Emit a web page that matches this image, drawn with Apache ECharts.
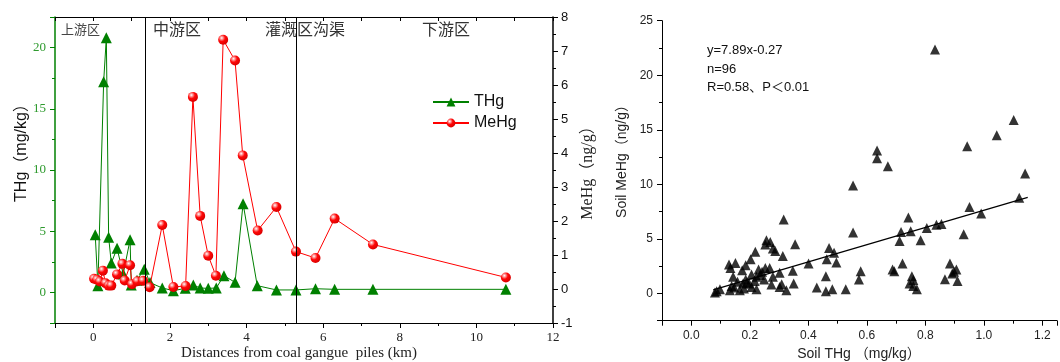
<!DOCTYPE html>
<html>
<head>
<meta charset="utf-8">
<script src="https://cdn.jsdelivr.net/npm/echarts@6/dist/echarts.min.js"></script>
<style>
html,body{margin:0;padding:0;background:#fff;}
#c{width:1060px;height:362px;}
</style>
</head>
<body>
<div id="c"></div>
<script>
// ---- Left chart: transect data ----
const thgDist = [0.05, 0.12, 0.27, 0.34, 0.40, 0.47, 0.62, 0.78, 0.96, 0.99, 1.14, 1.33, 1.48, 1.80, 2.09, 2.40, 2.61, 2.79, 3.00, 3.21, 3.41, 3.70, 3.91, 4.28, 4.78, 5.29, 5.80, 6.30, 7.30, 10.77];
const thgVals = [4.7, 0.55, 17.2, 20.8, 4.5, 2.4, 3.6, 1.5, 4.3, 0.6, 1.0, 1.9, 0.8, 0.36, 0.14, 0.33, 0.6, 0.36, 0.33, 0.36, 1.37, 0.82, 7.25, 0.55, 0.2, 0.2, 0.3, 0.25, 0.25, 0.25];
const mehgDist = [0.02, 0.10, 0.17, 0.25, 0.32, 0.40, 0.47, 0.62, 0.76, 0.82, 0.96, 1.01, 1.15, 1.30, 1.47, 1.80, 2.09, 2.41, 2.60, 2.79, 3.00, 3.20, 3.39, 3.70, 3.90, 4.29, 4.78, 5.29, 5.80, 6.30, 7.30, 10.77];
const mehgVals = [0.30, 0.27, 0.22, 0.54, 0.17, 0.10, 0.10, 0.43, 0.74, 0.25, 0.70, 0.14, 0.23, 0.24, 0.05, 1.88, 0.06, 0.09, 5.65, 2.15, 0.98, 0.39, 7.33, 6.72, 3.93, 1.72, 2.41, 1.10, 0.91, 2.07, 1.31, 0.34];
const zoneBounds = [1.35, 5.3];
const zoneNames = ['上游区', '中游区', '灌溉区沟渠', '下游区'];

// ---- Right chart: soil THg vs MeHg ----
const soilTHg = [0.833,0.635,0.635,0.672,0.943,1.044,1.102,1.141,0.553,1.121,0.951,0.991,0.316,0.742,0.855,0.838,0.805,0.717,0.75,0.553,0.931,0.712,0.784,0.355,0.257,0.27,0.253,0.279,0.287,0.471,0.488,0.219,0.313,0.203,0.463,0.129,0.151,0.186,0.401,0.496,0.722,0.884,0.134,0.174,0.347,0.579,0.688,0.694,0.898,0.906,0.892,0.253,0.268,0.23,0.242,0.302,0.206,0.143,0.46,0.754,0.223,0.279,0.573,0.867,0.91,0.759,0.249,0.186,0.217,0.158,0.35,0.746,0.177,0.309,0.274,0.138,0.429,0.759,0.302,0.206,0.147,0.098,0.528,0.223,0.771,0.325,0.482,0.46,0.166,0.132,0.081,0.087,0.198,0.19,0.235,0.18];
const soilMeHg = [22.35,13.1,12.4,11.65,13.5,14.5,15.9,11.0,9.9,8.78,7.92,7.32,6.77,6.95,6.37,6.3,6.0,5.64,5.7,5.58,5.43,4.81,4.88,4.51,4.88,4.72,4.48,4.12,3.9,4.17,3.72,3.81,3.44,3.14,3.14,2.65,2.8,2.59,2.74,2.84,2.74,2.74,2.34,2.13,2.07,2.04,2.2,2.04,1.98,2.2,1.83,2.34,2.34,2.2,1.98,1.89,1.74,1.52,1.58,1.58,1.52,1.52,1.28,1.31,1.15,1.22,1.28,1.28,1.15,1.06,0.91,0.91,0.91,0.85,0.82,0.67,0.55,0.67,0.6,0.6,0.55,0.39,0.39,0.39,0.39,0.3,0.39,0.21,0.3,0.3,0.09,0.21,0.9,1.0,1.7,0.45];
const fitSlope = 7.89, fitIntercept = -0.27;
const fitRange = [0.075, 1.15];
const annotLines = ['y=7.89x-0.27', 'n=96', 'R=0.58、P\uFF1C0.01'];

const zip = (a, b) => a.map((v, i) => [v, b[i]]);
const SERIF = "'Liberation Serif','DejaVu Serif',serif";
const SANS = "'Liberation Sans',Arial,sans-serif";
const GREEN = '#008000';

const redBall = {
  type: 'radial', x: 0.35, y: 0.32, r: 0.7,
  colorStops: [
    {offset: 0, color: '#ffffff'},
    {offset: 0.22, color: '#ff9090'},
    {offset: 0.5, color: '#ff0808'},
    {offset: 1, color: '#d80000'}
  ]
};

const chart = echarts.init(document.getElementById('c'), null, {renderer: 'canvas'});
const option = {
  animation: false,
  backgroundColor: '#fff',
  grid: [
    {left: 55, right: 507, top: 17, bottom: 39},
    {left: 662, right: 0, top: 20.7, bottom: 41.3}
  ],
  legend: {
    data: ['THg', 'MeHg'],
    orient: 'vertical', left: 427, top: 89,
    itemWidth: 36, itemHeight: 11, itemGap: 5,
    textStyle: {fontFamily: SANS, fontSize: 16, color: '#111'}
  },
  xAxis: [
    {
      gridIndex: 0, type: 'value', min: -1, max: 12, splitNumber: 6,
      axisLine: {onZero: false, lineStyle: {color: '#000', width: 1}},
      axisTick: {show: true, length: 5, lineStyle: {color: '#000'}},
      minorTick: {show: true, splitNumber: 2, length: 3, lineStyle: {color: '#000'}},
      splitLine: {show: false},
      axisLabel: {fontFamily: SERIF, fontSize: 13, color: '#222', margin: 8,
        formatter: v => (Math.abs(v % 2) < 1e-9 ? String(v) : '')}
    },
    {
      gridIndex: 0, type: 'value', position: 'top', min: -1, max: 12, interval: 1,
      axisLine: {onZero: false, lineStyle: {color: '#000', width: 1}},
      axisTick: {show: true, inside: true, length: 4, lineStyle: {color: '#000'}},
      splitLine: {show: false}, axisLabel: {show: false}
    },
    {
      gridIndex: 1, type: 'value', min: -0.1, max: 1.25, splitNumber: 7,
      axisLine: {onZero: false, lineStyle: {color: '#000', width: 1}},
      axisTick: {show: true, length: 5, lineStyle: {color: '#000'}},
      minorTick: {show: true, splitNumber: 2, length: 3, lineStyle: {color: '#000'}},
      splitLine: {show: false},
      axisLabel: {fontFamily: SANS, fontSize: 12, color: '#222', margin: 9,
        formatter: v => (v < 0 || v > 1.21) ? '' : v.toFixed(1)}
    }
  ],
  yAxis: [
    {
      gridIndex: 0, type: 'value', min: -2.5, max: 22.5, splitNumber: 5,
      axisLine: {show: true, onZero: false, lineStyle: {color: GREEN, width: 1.5}},
      axisTick: {show: true, length: 5, lineStyle: {color: GREEN}},
      minorTick: {show: true, splitNumber: 2, length: 3, lineStyle: {color: GREEN}},
      splitLine: {show: false},
      axisLabel: {fontFamily: SERIF, fontSize: 13, color: '#2e9a2e', margin: 9,
        formatter: v => (Math.abs(v % 5) < 1e-9 ? String(v) : '')}
    },
    {
      gridIndex: 0, type: 'value', position: 'right', min: -1, max: 8, interval: 1,
      axisLine: {show: true, onZero: false, lineStyle: {color: '#000', width: 1.5}},
      axisTick: {show: true, length: 5, lineStyle: {color: '#000'}},
      minorTick: {show: true, splitNumber: 2, length: 3, lineStyle: {color: '#000'}},
      splitLine: {show: false},
      axisLabel: {fontFamily: SANS, fontSize: 13, color: '#111', margin: 8}
    },
    {
      gridIndex: 1, type: 'value', min: -2.5, max: 25, splitNumber: 5,
      axisLine: {show: true, onZero: false, lineStyle: {color: '#000', width: 1}},
      axisTick: {show: true, length: 5, lineStyle: {color: '#000'}},
      minorTick: {show: true, splitNumber: 2, length: 3, lineStyle: {color: '#000'}},
      splitLine: {show: false},
      axisLabel: {fontFamily: SANS, fontSize: 12, color: '#222', margin: 9,
        formatter: v => (v < 0 ? '' : String(v))}
    }
  ],
  series: [
    {
      name: 'THg', type: 'line', xAxisIndex: 0, yAxisIndex: 0,
      data: zip(thgDist, thgVals),
      symbol: 'triangle', symbolSize: 11,
      itemStyle: {color: GREEN},
      lineStyle: {color: GREEN, width: 1},
      z: 3,
      markLine: {
        silent: true, symbol: 'none', label: {show: false},
        lineStyle: {color: '#000', type: 'solid', width: 1},
        data: zoneBounds.map(v => ({xAxis: v}))
      }
    },
    {
      name: 'MeHg', type: 'line', xAxisIndex: 0, yAxisIndex: 1,
      data: zip(mehgDist, mehgVals),
      symbol: 'circle', symbolSize: 10,
      itemStyle: {color: redBall, borderWidth: 0},
      lineStyle: {color: '#ff0000', width: 1},
      z: 4
    },
    {
      name: 'soil', type: 'scatter', xAxisIndex: 2, yAxisIndex: 2,
      data: zip(soilTHg, soilMeHg),
      symbol: 'triangle', symbolSize: 10,
      itemStyle: {color: '#000'}
    },
    {
      name: 'fit', type: 'line', xAxisIndex: 2, yAxisIndex: 2,
      data: fitRange.map(x => [x, fitSlope * x + fitIntercept]),
      symbol: 'none', lineStyle: {color: '#000', width: 1.2}
    }
  ],
  graphic: [
    {type: 'text', left: 61, top: 23, style: {text: zoneNames[0], font: "13px 'Noto Sans CJK SC'", fill: '#444'}},
    {type: 'text', left: 153, top: 21, style: {text: zoneNames[1], font: "16px 'Noto Sans CJK SC'", fill: '#333'}},
    {type: 'text', left: 265, top: 21, style: {text: zoneNames[2], font: "16px 'Noto Sans CJK SC'", fill: '#333'}},
    {type: 'text', left: 422, top: 21, style: {text: zoneNames[3], font: "16px 'Noto Sans CJK SC'", fill: '#333'}},
    {type: 'text', x: 22, y: 149, rotation: Math.PI / 2,
      style: {text: 'THg（mg/kg）', font: "16px 'Liberation Sans','Noto Sans CJK SC'", fill: '#111', align: 'center', verticalAlign: 'middle'}},
    {type: 'text', x: 588, y: 169, rotation: Math.PI / 2,
      style: {text: 'MeHg（ng/g）', font: "16px 'Liberation Serif','Noto Sans CJK SC'", fill: '#222', align: 'center', verticalAlign: 'middle'}},
    {type: 'text', x: 299, y: 353,
      style: {text: 'Distances from coal gangue  piles (km)', font: "15px 'Liberation Serif'", fill: '#222', align: 'center', verticalAlign: 'middle'}},
    {type: 'text', x: 622, y: 158, rotation: Math.PI / 2,
      style: {text: 'Soil MeHg（ng/g）', font: "14px 'Liberation Sans','Noto Sans CJK SC'", fill: '#222', align: 'center', verticalAlign: 'middle'}},
    {type: 'text', x: 859, y: 354,
      style: {text: 'Soil THg （mg/kg）', font: "14px 'Liberation Sans','Noto Sans CJK SC'", fill: '#222', align: 'center', verticalAlign: 'middle'}},
    {type: 'text', x: 707, y: 50,
      style: {text: annotLines[0], font: "13px 'Liberation Sans'", fill: '#111', align: 'left', verticalAlign: 'middle'}},
    {type: 'text', x: 707, y: 69,
      style: {text: annotLines[1], font: "13px 'Liberation Sans'", fill: '#111', align: 'left', verticalAlign: 'middle'}},
    {type: 'text', x: 707, y: 87,
      style: {text: annotLines[2], font: "13px 'Liberation Sans','Noto Sans CJK SC'", fill: '#111', align: 'left', verticalAlign: 'middle'}}
  ]
};
chart.setOption(option);
</script>
</body>
</html>
